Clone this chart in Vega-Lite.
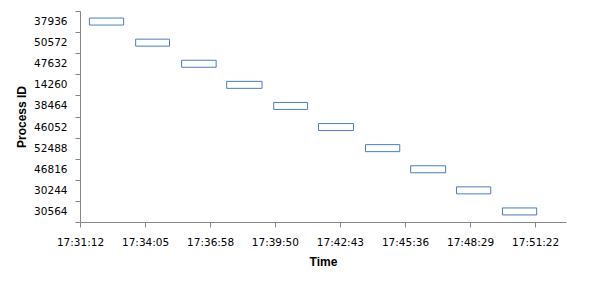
{
  "$schema": "https://vega.github.io/schema/vega-lite/v6.json",
  "width": 486,
  "height": 211,
  "autosize": {"type": "none"},
  "padding": {"left": 80, "top": 11, "right": 36, "bottom": 61},
  "background": "white",
  "config": {"view": {"stroke": null}},
  "data": {
    "values": [
      {"pid": "37936", "start": "2024-01-01T17:31:37", "end": "2024-01-01T17:33:08"},
      {"pid": "50572", "start": "2024-01-01T17:33:40", "end": "2024-01-01T17:35:10"},
      {"pid": "47632", "start": "2024-01-01T17:35:42", "end": "2024-01-01T17:37:14"},
      {"pid": "14260", "start": "2024-01-01T17:37:42", "end": "2024-01-01T17:39:16"},
      {"pid": "38464", "start": "2024-01-01T17:39:47", "end": "2024-01-01T17:41:17"},
      {"pid": "46052", "start": "2024-01-01T17:41:46", "end": "2024-01-01T17:43:19"},
      {"pid": "52488", "start": "2024-01-01T17:43:51", "end": "2024-01-01T17:45:22"},
      {"pid": "46816", "start": "2024-01-01T17:45:51", "end": "2024-01-01T17:47:24"},
      {"pid": "30244", "start": "2024-01-01T17:47:53", "end": "2024-01-01T17:49:24"},
      {"pid": "30564", "start": "2024-01-01T17:49:55", "end": "2024-01-01T17:51:26"}
    ]
  },
  "mark": {"type": "bar", "fill": "white", "stroke": "#4a7ebb", "strokeWidth": 1, "height": 7},
  "encoding": {
    "y": {
      "field": "pid",
      "type": "nominal",
      "sort": null,
      "scale": {"paddingInner": 0, "paddingOuter": 0},
      "axis": {
        "title": "Process ID",
        "titleFont": "Liberation Sans",
        "titleFontSize": 12,
        "titleFontWeight": "bold",
        "titleColor": "black",
        "titlePadding": 5,
        "labelFont": "DejaVu Sans",
        "labelFontSize": 10.5,
        "labelColor": "black",
        "labelPadding": 8,
        "tickBand": "extent",
        "tickSize": 5,
        "tickColor": "#868686",
        "domainColor": "#868686",
        "grid": false
      }
    },
    "x": {
      "field": "start",
      "type": "temporal",
      "scale": {"domain": [
        {"year": 2024, "month": 1, "date": 1, "hours": 17, "minutes": 31, "seconds": 12},
        {"year": 2024, "month": 1, "date": 1, "hours": 17, "minutes": 52, "seconds": 44}
      ]},
      "axis": {
        "title": "Time",
        "titleFont": "Liberation Sans",
        "titleFontSize": 12,
        "titleFontWeight": "bold",
        "titleColor": "black",
        "titlePadding": 9,
        "labelFont": "DejaVu Sans",
        "labelFontSize": 10.5,
        "labelColor": "black",
        "labelPadding": 10,
        "labelFlush": false,
        "format": "%H:%M:%S",
        "values": [
          {"year": 2024, "month": 1, "date": 1, "hours": 17, "minutes": 31, "seconds": 12},
          {"year": 2024, "month": 1, "date": 1, "hours": 17, "minutes": 34, "seconds": 5},
          {"year": 2024, "month": 1, "date": 1, "hours": 17, "minutes": 36, "seconds": 58},
          {"year": 2024, "month": 1, "date": 1, "hours": 17, "minutes": 39, "seconds": 50},
          {"year": 2024, "month": 1, "date": 1, "hours": 17, "minutes": 42, "seconds": 43},
          {"year": 2024, "month": 1, "date": 1, "hours": 17, "minutes": 45, "seconds": 36},
          {"year": 2024, "month": 1, "date": 1, "hours": 17, "minutes": 48, "seconds": 29},
          {"year": 2024, "month": 1, "date": 1, "hours": 17, "minutes": 51, "seconds": 22}
        ],
        "labelOverlap": false,
        "tickSize": 5,
        "tickColor": "#868686",
        "domainColor": "#868686",
        "grid": false
      }
    },
    "x2": {"field": "end"}
  }
}
